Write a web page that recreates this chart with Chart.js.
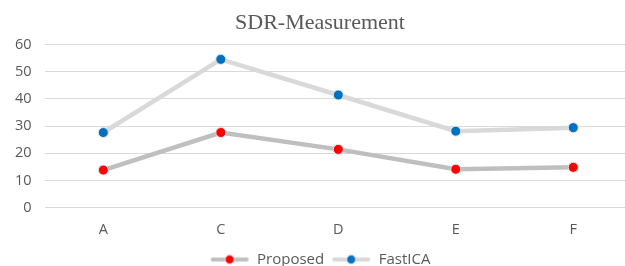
<!DOCTYPE html>
<html>
<head>
<meta charset="utf-8">
<script src="https://cdn.jsdelivr.net/npm/chart.js@4"></script>
<style>
  html, body { margin: 0; padding: 0; background: #fff; overflow: hidden; }
  #wrap { width: 638px; height: 266px; }
</style>
</head>
<body>
<div id="wrap"><canvas id="sdrChart" width="638" height="266"></canvas></div>
<script>
const categories = ["A", "C", "D", "E", "F"];
const proposedValues = [13.8, 27.6, 21.4, 14.1, 14.8];
const fastIcaValues = [27.6, 54.5, 41.4, 28.1, 29.4];
const yTicks = [0, 10, 20, 30, 40, 50, 60];

// legend marker: line with a dot in the middle
function legendMarker(lineColor, dotColor) {
  const c = document.createElement("canvas");
  c.width = 40;
  c.height = 12;
  const g = c.getContext("2d");
  g.strokeStyle = lineColor;
  g.lineWidth = 4;
  g.lineCap = "round";
  g.beginPath();
  g.moveTo(3, 6);
  g.lineTo(37, 6);
  g.stroke();
  g.fillStyle = dotColor;
  g.strokeStyle = "#e6e6e6";
  g.lineWidth = 1;
  g.beginPath();
  g.arc(20, 6, 4.5, 0, Math.PI * 2);
  g.fill();
  g.stroke();
  return c;
}

const ctx = document.getElementById("sdrChart").getContext("2d");
const sdrChart = new Chart(ctx, {
  type: "line",
  data: {
    labels: categories,
    datasets: [
      {
        label: "Proposed",
        data: proposedValues,
        borderColor: "#bfbfbf",
        borderWidth: 4.5,
        pointRadius: 5,
        pointBackgroundColor: "#ff0000",
        pointBorderColor: "#e6e6e6",
        pointBorderWidth: 1,
        tension: 0,
      },
      {
        label: "FastICA",
        data: fastIcaValues,
        borderColor: "#d9d9d9",
        borderWidth: 4.5,
        pointRadius: 5,
        pointBackgroundColor: "#0070c0",
        pointBorderColor: "#e6e6e6",
        pointBorderWidth: 1,
        tension: 0,
      },
    ],
  },
  options: {
    responsive: false,
    animation: false,
    layout: { padding: { left: 2, right: 0, top: 10, bottom: -11 } },
    scales: {
      x: {
        offset: true,
        grid: { display: false },
        border: { display: false },
        ticks: { color: "#595959", font: { family: "Open Sans", size: 14.5 }, padding: 6 },
      },
      y: {
        min: 0,
        max: 60,
        afterBuildTicks: (axis) => { axis.ticks = yTicks.map((v) => ({ value: v })); },
        grid: { color: "#d9d9d9", lineWidth: 1, drawTicks: false },
        border: { display: false },
        ticks: { color: "#595959", font: { family: "Open Sans", size: 14.5 }, padding: 13 },
      },
    },
    plugins: {
      title: {
        display: true,
        text: "SDR-Measurement",
        color: "#595959",
        font: { family: "Liberation Serif", size: 22, weight: "normal" },
        padding: { top: 0, bottom: 8 },
      },
      legend: {
        position: "bottom",
        labels: {
          color: "#595959",
          font: { family: "Open Sans", size: 15 },
          usePointStyle: true,
          pointStyleWidth: 40,
          boxHeight: 12,
          padding: 7,
          generateLabels: (chart) => [
            { text: "Proposed", pointStyle: legendMarker("#bfbfbf", "#ff0000"), fontColor: "#595959", strokeStyle: "transparent", lineWidth: 0, datasetIndex: 0 },
            { text: "FastICA", pointStyle: legendMarker("#d9d9d9", "#0070c0"), fontColor: "#595959", strokeStyle: "transparent", lineWidth: 0, datasetIndex: 1 },
          ],
        },
      },
      tooltip: { enabled: false },
    },
  },
});
</script>
</body>
</html>
